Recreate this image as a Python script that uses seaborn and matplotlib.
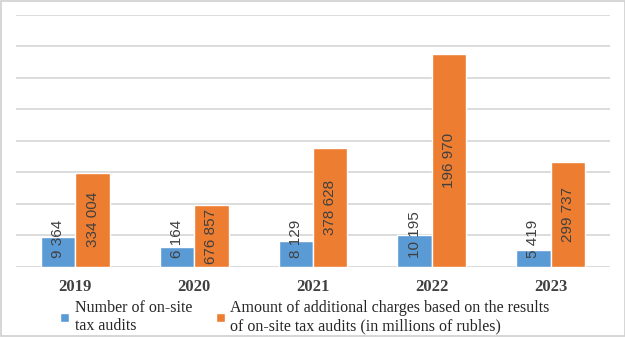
import matplotlib
matplotlib.use("Agg")
import matplotlib.pyplot as plt
import seaborn as sns
import pandas as pd
from matplotlib.patches import Rectangle

years = ["2019", "2020", "2021", "2022", "2023"]
audits = [9364, 6164, 8129, 10195, 5419]
audit_labels = ["9 364", "6 164", "8 129", "10 195", "5 419"]
# bar heights as drawn in the picture (same axis as the audits)
charges = [29800, 19500, 37800, 67500, 33300]
charge_labels = ["334 004", "676 857", "378 628", "196 970", "299 737"]
series = ["Number of on-site\ntax audits",
          "Amount of additional charges based on the results\nof on-site tax audits (in millions of rubles)"]
colors = ["#5B9BD5", "#ED7D31"]

df = pd.DataFrame({
    "year": years * 2,
    "series": [series[0]] * len(years) + [series[1]] * len(years),
    "value": audits + charges,
})

sns.set_theme(style="white")
plt.rcParams["font.family"] = ["Liberation Serif", "DejaVu Serif"]

fig = plt.figure(figsize=(6.25, 3.37), dpi=100)
ax = fig.add_axes([16 / 625, 1 - 266.7 / 337, 594 / 625, (266.7 - 15) / 337])

sns.barplot(data=df, x="year", y="value", hue="series", palette=colors,
            width=0.58, gap=0, dodge=True, saturation=1, ax=ax, legend=True,
            zorder=3)

ax.set_ylim(0, 80000)
ax.set_xlim(-0.5, 4.5)
ax.set_yticks(range(0, 80001, 10000))
ax.yaxis.grid(True, color="#d9d9d9", linewidth=1.3, zorder=0)
ax.set_axisbelow(True)
ax.tick_params(axis="y", left=False, labelleft=False)
ax.tick_params(axis="x", bottom=False, pad=3)
for s in ax.spines.values():
    s.set_visible(False)
ax.set_xlabel("")
ax.set_ylabel("")
for lbl in ax.get_xticklabels():
    lbl.set_fontweight("bold")
    lbl.set_fontsize(12)
    lbl.set_color("#404040")

lab_font = dict(family=["Liberation Sans", "DejaVu Sans"], fontsize=11, color="#404040",
                rotation=90)
blue_bars = ax.containers[0]
orange_bars = ax.containers[1]
for bar, txt in zip(blue_bars, audit_labels):
    x = bar.get_x() + bar.get_width() / 2
    ax.annotate(txt, xy=(x, 0), xytext=(0, 6.0), textcoords="offset points",
                ha="center", va="bottom", zorder=4, **lab_font)
for bar, txt in zip(orange_bars, charge_labels):
    x = bar.get_x() + bar.get_width() / 2
    ax.text(x, bar.get_height() / 2, txt, ha="center", va="center", zorder=4, **lab_font)

handles, labels = ax.get_legend_handles_labels()
ax.get_legend().remove()
fig.legend(handles, labels, loc="center left", bbox_to_anchor=(46 / 625, 1 - 317 / 337),
           ncol=2, frameon=False, fontsize=11.5, handlelength=0.55, handleheight=0.55,
           handletextpad=0.35, columnspacing=1.5, labelcolor="#262626",
           labelspacing=0.2)

fig.patches.append(Rectangle((0.0008, 0.0015), 0.9984, 0.997, transform=fig.transFigure,
                             fill=False, edgecolor="#d0d0d0", linewidth=1.2))

fig.savefig("out.png", dpi=100)
